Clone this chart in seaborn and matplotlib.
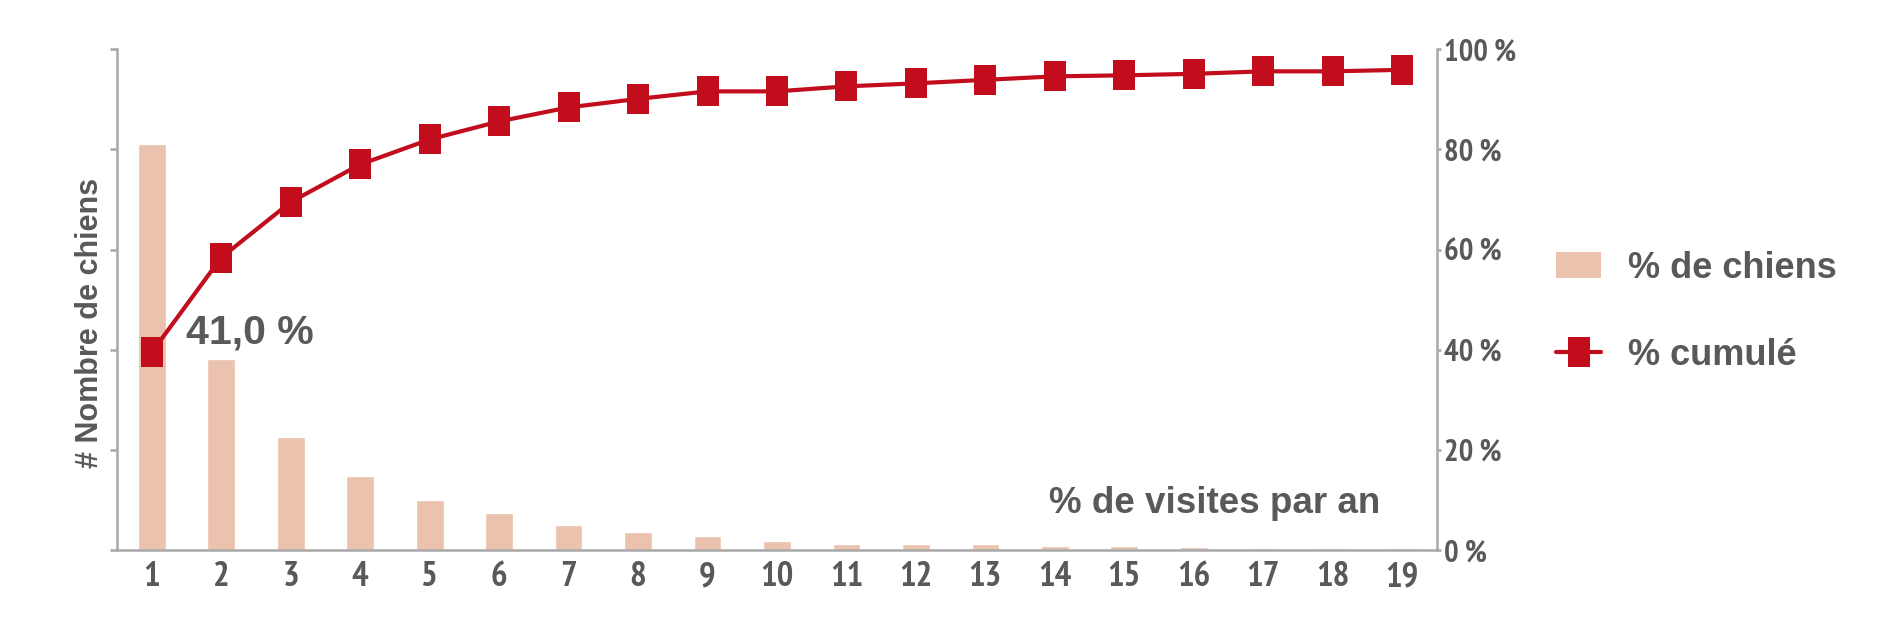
import numpy as np
import matplotlib
matplotlib.use("Agg")
import matplotlib.pyplot as plt
from matplotlib import font_manager as fm
from matplotlib.textpath import TextPath
from matplotlib.patches import Patch
import seaborn as sns

# data
visits = [str(i) for i in range(1, 20)]
pct_dogs = [40.5, 19.05, 11.25, 7.37, 4.97, 3.69, 2.53, 1.83, 1.40, 0.90,
            0.63, 0.63, 0.63, 0.37, 0.37, 0.30, 0.17, 0.17, 0.17]
pct_cum = [39.5, 58.4, 69.5, 77.0, 82.0, 85.6, 88.4, 90.1, 91.6, 91.6,
           92.6, 93.2, 93.9, 94.6, 94.8, 95.1, 95.6, 95.6, 95.9]
right_ticks = [0, 20, 40, 60, 80, 100]
left_ticks = [0, 10, 20, 30, 40, 50]

BAR = "#EBC2AD"
RED = "#C10D1C"
TXT = "#58595B"
GRID = "#A8A8A8"

sns.set_style("white")

names = {f.name for f in fm.fontManager.ttflist}
BOLD = "Liberation Sans" if "Liberation Sans" in names else "DejaVu Sans"
plt.rcParams["font.family"] = [BOLD, "DejaVu Sans"]

# narrow face for the tick labels (DIN-like look), Liberation Narrow first
cond_file = None
for want in ("liberation sans narrow", "narrow", "condensed"):
    for f in fm.fontManager.ttflist:
        tag = (f.name + " " + str(f.stretch)).lower()
        if want in tag and str(f.weight) in ("700", "bold"):
            cond_file = f.fname
            break
    if cond_file:
        break
base_fp = fm.FontProperties(fname=cond_file) if cond_file else \
    fm.FontProperties(family=BOLD, weight="bold")


def fit_font(sample, width_px, height_px):
    # size (pt) balancing the target width and digit height at 100 dpi
    p = base_fp.copy()
    p.set_size(10)
    w = TextPath((0, 0), sample, prop=p).get_extents().width * 100 / 72
    h = TextPath((0, 0), "0", prop=p).get_extents().height * 100 / 72
    s = np.sqrt((10 * width_px / w) * (10 * height_px / h))
    out = base_fp.copy()
    out.set_size(s)
    return out


right_fp = fit_font("100 %", 74, 21)
x_fp = fit_font("19", 33, 23.3)

fig = plt.figure(figsize=(18.99, 6.2), dpi=100)
ax = fig.add_axes([0.0616, 0.1126, 0.6951, 0.8079])

sns.barplot(x=visits, y=pct_dogs, color=BAR, saturation=1, width=0.4, ax=ax)
ax.set_ylim(0, 50)
ax.set_yticks(left_ticks)
ax.set_yticklabels([])
ax.tick_params(axis="y", length=5, width=1.8, color=GRID, direction="out")

ax2 = ax.twinx()
rect = [(-0.367, -0.5), (0.367, -0.5), (0.367, 0.5), (-0.367, 0.5), (-0.367, -0.5)]
sns.lineplot(x=np.arange(len(pct_cum)), y=pct_cum, ax=ax2, color=RED,
             linewidth=3.0, marker=rect, markersize=21.6, markeredgewidth=0)
ax2.set_ylim(0, 100)
ax2.set_yticks(right_ticks)
ax2.set_yticklabels([f"{v} %" for v in right_ticks], fontproperties=right_fp,
                    color=TXT)
ax2.tick_params(axis="y", length=3, width=1.8, color=GRID, direction="out", pad=2)
ax2.set_ylabel("")

ax.set_xlim(-0.5, 18.5)
ax.set_xlabel("")
ax.set_ylabel("")
ax.set_xticks(range(len(visits)))
ax.set_xticklabels(visits, fontproperties=x_fp, color=TXT)
ax.set_xticks([-0.5] + [i + 0.5 for i in range(14)] + [18.5], minor=True)
ax.tick_params(axis="x", which="major", length=0, pad=8)
ax.tick_params(axis="x", which="minor", length=10.8, width=1.8, color=GRID,
               direction="out")

for s in ["top", "right"]:
    ax.spines[s].set_visible(False)
for s in ["top", "left", "bottom"]:
    ax2.spines[s].set_visible(False)
for s in ["left", "bottom"]:
    ax.spines[s].set_color(GRID)
    ax.spines[s].set_linewidth(1.8)
ax2.spines["right"].set_color(GRID)
ax2.spines["right"].set_linewidth(1.8)

# y label
ax.set_ylabel("# Nombre de chiens", fontsize=22, fontweight="bold", color=TXT,
              ha="center", va="center")
ax.yaxis.set_label_coords(-0.0205, 0.4545)

# annotation on first point
ax2.text(0.49, 41.3, "41,0 %", fontsize=29.5, fontweight="bold", color=TXT,
         ha="left", va="baseline")

ax2.text(0.957, 0.0737, "% de visites par an", transform=ax2.transAxes,
         fontsize=26.5, fontweight="bold", color=TXT, ha="right", va="baseline")

handles = [Patch(facecolor=BAR, edgecolor="none"), ax2.lines[0]]
fig.legend(handles, ["% de chiens", "% cumulé"], loc="center left",
           bbox_to_anchor=(0.8194, 0.497), frameon=False, borderpad=0,
           borderaxespad=0, handlelength=1.25, handleheight=0.72,
           handletextpad=0.75, labelspacing=1.45,
           prop={"family": BOLD, "weight": "bold", "size": 26},
           labelcolor=TXT)

fig.savefig("out.png", dpi=100)
